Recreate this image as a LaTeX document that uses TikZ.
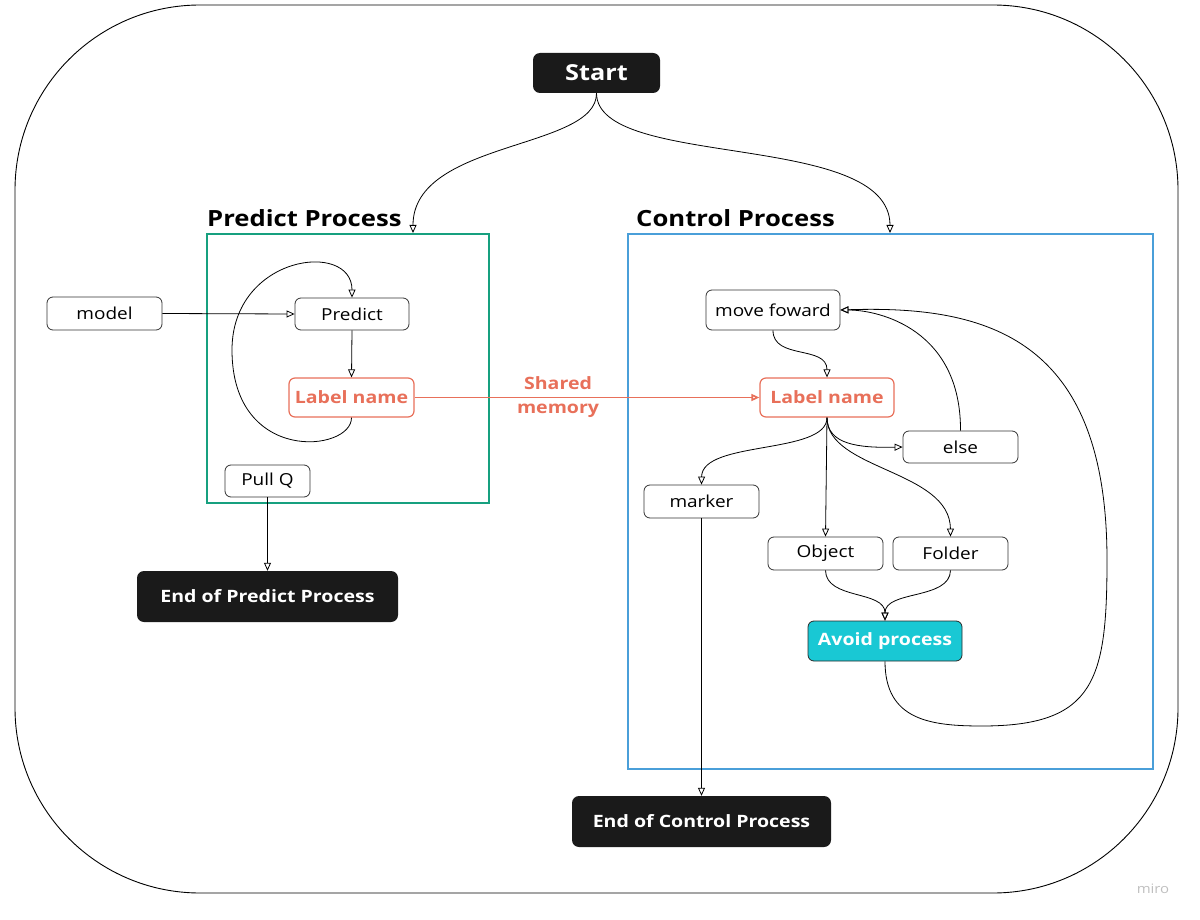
\documentclass[tikz,border=0pt]{standalone}
\usepackage{fontspec}
\setmainfont{Open Sans}[FakeStretch=1.15]
\usepackage{tikz}
\usepackage{xcolor}
\usetikzlibrary{arrows.meta}
\definecolor{darkboxe}{HTML}{1A1A1A}
\definecolor{predictframe}{HTML}{17A07F}
\definecolor{controlframe}{HTML}{4A9FD9}
\definecolor{labelorange}{HTML}{E8705A}
\definecolor{avoidcyan}{HTML}{19C8D4}
\definecolor{boxline}{HTML}{333333}
\colorlet{darkbox}{darkboxe}
\tikzstyle{stepbox} = [
    draw=boxline,
    fill=white,
    rounded corners=6pt,
    line width=0.8pt,
    minimum width=115pt,
    minimum height=33pt,
    font=\fontsize{16.5}{19}\selectfont
    ]
\tikzstyle{labelbox} = [
    stepbox,
    draw=labelorange,
    line width=1.2pt,
    text=labelorange,
    minimum height=39pt,
    font=\fontsize{17}{20}\selectfont\bfseries
    ]
\tikzstyle{terminal} = [
    fill=darkbox,
    text=white,
    rounded corners=7pt,
    minimum height=51pt,
    font=\fontsize{17}{20}\selectfont\bfseries
    ]
\tikzstyle{frametitle} = [
    anchor=base west,
    inner sep=0pt,
    font=\fontsize{22.3}{26}\selectfont\bfseries
    ]
\tikzstyle{link} = [
    draw,
    line width=0.8pt,
    -{Triangle[open,length=8pt,width=7pt]}
    ]

\begin{document}
\begin{tikzpicture}[x=1pt,y=-1pt]
\useasboundingbox (0,0) rectangle (1200,920);
\draw[rounded corners=185pt, line width=0.9pt] (15,5) rectangle (1178,893);

% process frames
\node[draw=predictframe, line width=2pt, minimum width=282pt, minimum height=269pt] (predictbox) at (348,368.5) {};
\node[draw=controlframe, line width=1.6pt, minimum width=525pt, minimum height=535pt] (controlbox) at (890.5,501.5) {};
\node[frametitle] (predicttitle) at (207,227) {Predict Process};
\node[frametitle] (controltitle) at (636,227) {Control Process};
\coordinate (predictin) at (413,233);
\coordinate (controlin) at (890,233);

\node[terminal, minimum width=127pt, minimum height=40pt, font=\fontsize{22}{26}\selectfont\bfseries] (start) at (596.5,73) {Start};

% predict side
\node[stepbox] (model) at (104.5,313.5) {model};
\node[stepbox, minimum width=114pt, minimum height=32pt] (predict) at (352,314) {Predict};
\node[labelbox, minimum width=125pt] (labelp) at (351.5,397.5) {Label name};
\node[stepbox, minimum width=85pt, minimum height=32pt] (pullq) at (267.5,481) {Pull Q};
\node[terminal, minimum width=261pt] (endp) at (267.5,596.5) {End of Predict Process};

% control side
\node[stepbox, minimum width=134pt, minimum height=40pt] (movef) at (773,310) {move foward};
\node[labelbox, minimum width=134pt] (labelc) at (827,397.5) {Label name};
\node[stepbox, minimum height=32pt] (else) at (960.5,447) {else};
\node[stepbox] (marker) at (701.5,501.5) {marker};
\node[stepbox] (object) at (825.5,553.5) {Object};
\node[stepbox] (folder) at (950.5,553.5) {Folder};
\node[stepbox, draw=boxline!80!black, fill=avoidcyan, text=white, minimum width=154pt, minimum height=40pt,
      font=\fontsize{17}{20}\selectfont\bfseries] (avoid) at (885,641) {Avoid process};
\node[terminal, minimum width=259pt] (endc) at (701.5,821.5) {End of Control Process};

\path[link] (start.south) .. controls (597,150) and (413,140) .. (predictin);
\path[link] (start.south) .. controls (597,170) and (890,130) .. (controlin);

\path[link] (model.east) -- (predict.west);
\path[link] (predict.south) -- (labelp.north);
\path[link] (labelp.south) .. controls (352,452) and (232,465) .. (232,350)
    .. controls (232,255) and (352,240) .. (predict.north);
\path[link] (pullq.south) -- (endp.north);

% shared memory
\path[link, draw=labelorange, line width=1.6pt] (labelp.east) -- (labelc.west)
    node[pos=0.416, text=labelorange, align=center, font=\fontsize{17}{24}\selectfont\bfseries] (shared) {Shared\\memory};

\path[link] (movef.south) .. controls (773,360) and (827,345) .. (labelc.north);
\path[link] (labelc.south) .. controls (827,445) and (860,448) .. (else.west);
\path[link] (else.north) .. controls (961,330) and (880,310) .. (movef.east);
\path[link] (labelc.south) .. controls (827,455) and (702,440) .. (marker.north);
\path[link] (labelc.south) -- (object.north);
\path[link] (labelc.south) .. controls (827,470) and (950,470) .. (folder.north);
\path[link] (object.south) .. controls (826,600) and (885,590) .. (avoid.north);
\path[link] (folder.south) .. controls (950,600) and (885,590) .. (avoid.north);
\path[link] (avoid.south) .. controls (885,720) and (930,726) .. (982,726)
    .. controls (1095,726) and (1107,680) .. (1107,560)
    .. controls (1107,340) and (990,305) .. (movef.east);
\path[link] (marker.south) -- (endc.north);

\node[text=black!25, font=\fontsize{13}{13}\selectfont] (miro) at (1153,889) {miro};
\end{tikzpicture}
\end{document}
